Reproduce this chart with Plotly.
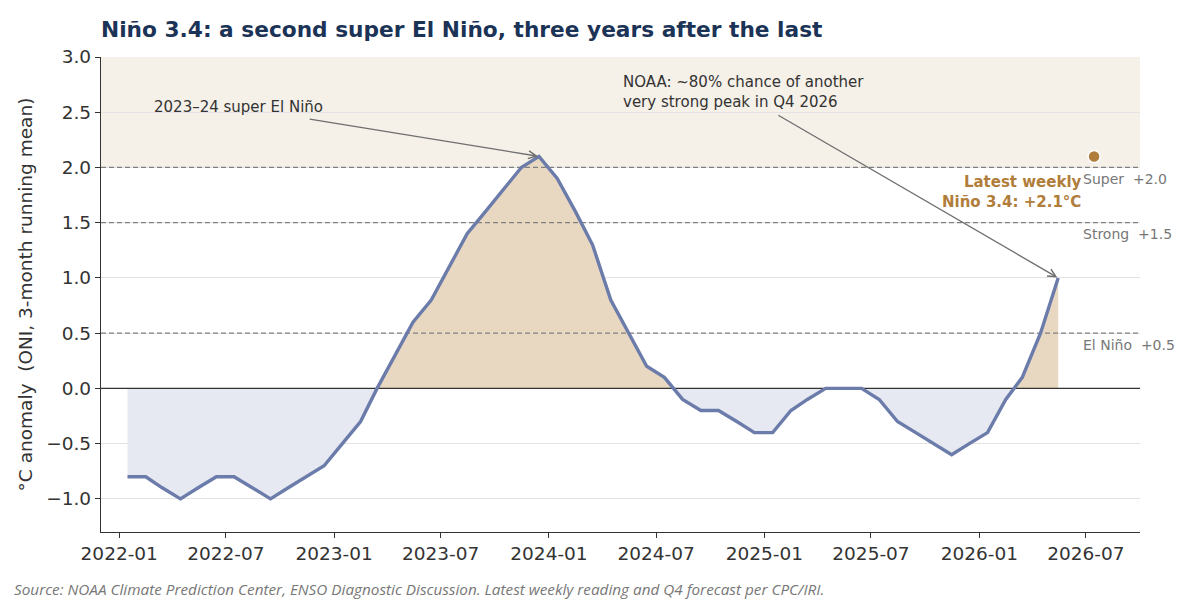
import numpy as np
import pandas as pd
import plotly.graph_objects as go

# Monthly ONI (3-month running mean), mid-month dates, Jan 2022 - May 2026
months = pd.date_range("2022-01-01", periods=53, freq="MS") + pd.Timedelta(days=14)
oni = [
    -0.8, -0.8, -0.9, -1.0, -0.9, -0.8, -0.8, -0.9, -1.0, -0.9, -0.8, -0.7,   # 2022
    -0.5, -0.3, 0.0, 0.3, 0.6, 0.8, 1.1, 1.4, 1.6, 1.8, 2.0, 2.1,            # 2023
    1.9, 1.6, 1.3, 0.8, 0.5, 0.2, 0.1, -0.1, -0.2, -0.2, -0.3, -0.4,         # 2024
    -0.4, -0.2, -0.1, 0.0, 0.0, 0.0, -0.1, -0.3, -0.4, -0.5, -0.6, -0.5,     # 2025
    -0.4, -0.1, 0.1, 0.5, 1.0,                                               # 2026
]
latest_date = "2026-07-15"
latest_weekly = 2.1

thresholds = [0.5, 1.5, 2.0]
threshold_labels = ["El Niño  +0.5", "Strong  +1.5", "Super  +2.0"]

x_range = ["2021-12-01", "2026-10-01"]
y_range = [-1.3, 3.0]

LINE = "#6b7baa"
WARM = "#e8d8c2"
COOL = "#e6e9f2"
BAND = "#f5f0e8"
GOLD = "#b07d3a"
INK = "#333333"
FONT = "DejaVu Sans"

# insert zero crossings so the two fills meet exactly at 0
t = months.astype("int64").to_numpy() / 1e9
y = np.array(oni)
xs, ys = [t[0]], [y[0]]
for i in range(1, len(y)):
    if y[i - 1] * y[i] < 0:
        f = y[i - 1] / (y[i - 1] - y[i])
        xs.append(t[i - 1] + f * (t[i] - t[i - 1]))
        ys.append(0.0)
    xs.append(t[i])
    ys.append(y[i])
xd = pd.to_datetime(np.array(xs), unit="s")
ys = np.array(ys)

fig = go.Figure()

fig.add_trace(go.Scatter(x=xd, y=np.minimum(ys, 0), mode="lines", line=dict(width=0),
                         fill="tozeroy", fillcolor=COOL, hoverinfo="skip"))
fig.add_trace(go.Scatter(x=xd, y=np.maximum(ys, 0), mode="lines", line=dict(width=0),
                         fill="tozeroy", fillcolor=WARM, hoverinfo="skip"))

# threshold lines + zero line
for th in thresholds:
    fig.add_trace(go.Scatter(x=x_range, y=[th, th], mode="lines",
                             line=dict(color="#808080", width=1.3, dash="5px,3px"),
                             hoverinfo="skip"))
fig.add_trace(go.Scatter(x=x_range, y=[0, 0], mode="lines",
                         line=dict(color=INK, width=1.3), hoverinfo="skip"))

fig.add_trace(go.Scatter(x=months, y=oni, mode="lines",
                         line=dict(color=LINE, width=3.4)))

fig.add_trace(go.Scatter(x=[latest_date], y=[latest_weekly], mode="markers",
                         marker=dict(color=GOLD, size=12, line=dict(color="white", width=1.5))))

# super band
fig.add_shape(type="rect", xref="paper", yref="y", x0=0, x1=1, y0=2.0, y1=3.0,
              fillcolor=BAND, line_width=0, layer="below")

# threshold labels on the right
for th, lab in zip(thresholds, threshold_labels):
    fig.add_annotation(x=0.943, xref="paper", y=th - 0.105, yref="y", text=lab,
                       showarrow=False, xanchor="left",
                       font=dict(family=FONT, size=14, color="#777777"))

# latest weekly label
fig.add_annotation(x=0.946, xref="paper", y=1.78, yref="y",
                   text="<b>Latest weekly<br>Niño 3.4: +2.1°C</b>", showarrow=False,
                   xanchor="right", align="right",
                   font=dict(family=FONT, size=15, color=GOLD))

# 2023-24 peak callout
ipk = int(np.argmax(oni))
fig.add_annotation(x="2022-02-26", y=2.55, text="2023–24 super El Niño", showarrow=False,
                   xanchor="left", font=dict(family=FONT, size=15, color=INK))
fig.add_annotation(x=months[ipk], y=oni[ipk], ax="2022-11-18", ay=2.44, axref="x", ayref="y",
                   text="", showarrow=True, arrowhead=5, arrowsize=1.2, arrowwidth=1.3,
                   arrowcolor="#6e6e6e", standoff=1)

# forecast callout
fig.add_annotation(x="2024-05-02", y=2.68,
                   text="NOAA: ~80% chance of another<br>very strong peak in Q4 2026",
                   showarrow=False, xanchor="left", align="left",
                   font=dict(family=FONT, size=15, color=INK))
fig.add_annotation(x=months[-1], y=oni[-1], ax="2025-01-22", ay=2.48, axref="x", ayref="y",
                   text="", showarrow=True, arrowhead=5, arrowsize=1.2, arrowwidth=1.3,
                   arrowcolor="#6e6e6e", standoff=1)

# source line
fig.add_annotation(x=-0.0857, xref="paper", y=-0.12, yref="paper", xanchor="left", yanchor="middle",
                   text="<i>Source: NOAA Climate Prediction Center, ENSO Diagnostic Discussion. "
                        "Latest weekly reading and Q4 forecast per CPC/IRI.</i>",
                   showarrow=False, font=dict(family="Open Sans", size=15.3, color="#777777"))

fig.update_layout(
    width=1200, height=600,
    margin=dict(l=93, r=68, t=49, b=76),
    paper_bgcolor="white", plot_bgcolor="white",
    showlegend=False,
    title=dict(text="<b>Niño 3.4: a second super El Niño, three years after the last</b>",
               x=93 / 1200, xanchor="left", y=1 - 21 / 600, yanchor="middle",
               font=dict(family=FONT, size=21.7, color="#1b3356")),
    font=dict(family=FONT, color=INK),
    xaxis=dict(range=x_range, type="date", tick0="2022-01-01", dtick="M6", tickformat="%Y-%m",
               showgrid=False, zeroline=False, showline=True, linecolor=INK, linewidth=1.3,
               ticks="outside", ticklen=5, tickcolor=INK, tickfont=dict(size=18.5, color=INK)),
    yaxis=dict(range=y_range, tickvals=[-1.0, -0.5, 0.0, 0.5, 1.0, 1.5, 2.0, 2.5, 3.0],
               tickformat=".1f", showgrid=True, gridcolor="#e3e3e3", gridwidth=1,
               zeroline=False, showline=True, linecolor=INK, linewidth=1.3,
               ticks="outside", ticklen=5, tickcolor=INK, tickfont=dict(size=18.5, color=INK),
               title=dict(text="°C anomaly  (ONI, 3-month running mean)", standoff=8,
                          font=dict(size=18.5, color=INK))),
)

fig.write_html("out.html")
